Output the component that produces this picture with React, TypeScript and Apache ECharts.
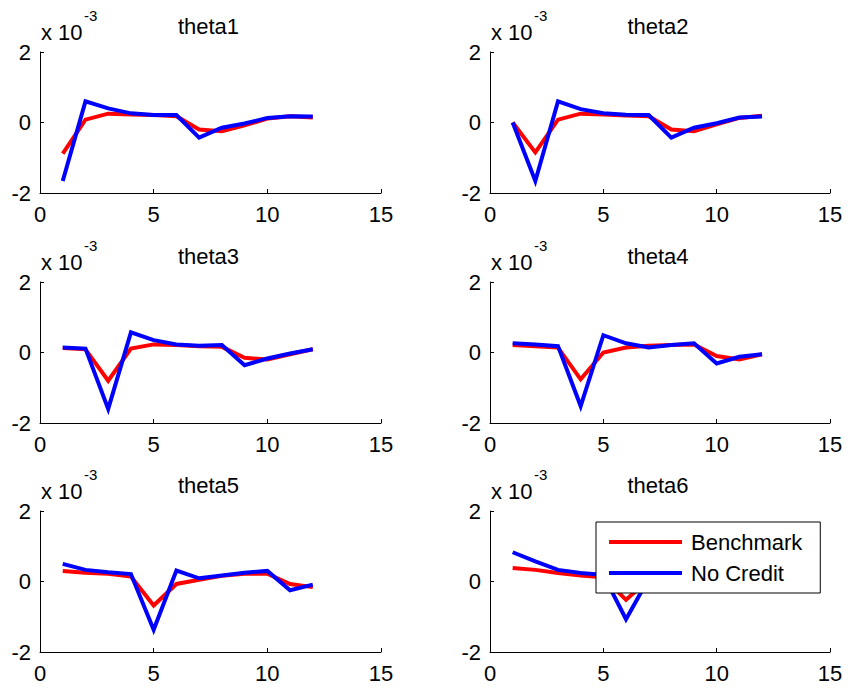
import React, { useEffect, useRef } from "react";
import * as echarts from "echarts";

// Horizon index 1..12
const steps = [1, 2, 3, 4, 5, 6, 7, 8, 9, 10, 11, 12];

// Panel titles
const panelTitles = ["theta1", "theta2", "theta3", "theta4", "theta5", "theta6"];

// Responses, in units of 1e-3
const benchmark1 = [-0.88, 0.08, 0.25, 0.23, 0.21, 0.18, -0.2, -0.25, -0.08, 0.11, 0.18, 0.14];
const noCredit1 = [-1.66, 0.6, 0.4, 0.26, 0.21, 0.21, -0.43, -0.15, -0.03, 0.13, 0.18, 0.17];

const benchmark2 = [0.0, -0.85, 0.08, 0.25, 0.23, 0.2, 0.18, -0.2, -0.25, -0.05, 0.13, 0.19];
const noCredit2 = [0.0, -1.66, 0.6, 0.38, 0.26, 0.22, 0.21, -0.43, -0.15, -0.02, 0.14, 0.17];

const benchmark3 = [0.13, 0.09, -0.8, 0.11, 0.23, 0.21, 0.18, 0.16, -0.15, -0.2, -0.05, 0.09];
const noCredit3 = [0.14, 0.11, -1.6, 0.57, 0.35, 0.23, 0.19, 0.21, -0.36, -0.17, -0.03, 0.09];

const benchmark4 = [0.21, 0.18, 0.14, -0.76, 0.0, 0.14, 0.19, 0.21, 0.23, -0.1, -0.2, -0.05];
const noCredit4 = [0.26, 0.23, 0.18, -1.52, 0.49, 0.26, 0.14, 0.21, 0.26, -0.31, -0.12, -0.05];

const benchmark5 = [0.3, 0.25, 0.22, 0.14, -0.68, -0.07, 0.05, 0.16, 0.22, 0.22, -0.07, -0.16];
const noCredit5 = [0.5, 0.33, 0.26, 0.21, -1.37, 0.31, 0.09, 0.17, 0.25, 0.3, -0.25, -0.09];

const benchmark6 = [0.38, 0.33, 0.24, 0.17, 0.12, -0.52, 0.05, 0.12, 0.18, 0.22, 0.2, -0.05];
const noCredit6 = [0.83, 0.57, 0.33, 0.24, 0.19, -1.07, 0.08, 0.1, 0.2, 0.26, 0.3, -0.2];

const benchmarkSets = [benchmark1, benchmark2, benchmark3, benchmark4, benchmark5, benchmark6];
const noCreditSets = [noCredit1, noCredit2, noCredit3, noCredit4, noCredit5, noCredit6];

// Axis ticks
const xTicks = [0, 5, 10, 15];
const yTicks = [-2, 0, 2];

const FONT = "Arial, 'Liberation Sans', Helvetica, sans-serif";
const RED = "#ff0000";
const BLUE = "#0000ff";

// Subplot boxes (pixels)
const colLefts = [40, 490];
const colWidths = [341, 340];
const rowTops = [52, 282, 511];
const plotHeight = 141;

export default function App() {
  const ref = useRef<HTMLDivElement>(null);

  useEffect(() => {
    if (!ref.current) return;
    const chart = echarts.init(ref.current, null, { renderer: "svg" });

    const grids: any[] = [];
    const xAxes: any[] = [];
    const yAxes: any[] = [];
    const series: any[] = [];
    const graphics: any[] = [];

    for (let i = 0; i < 6; i++) {
      const col = i % 2;
      const row = Math.floor(i / 2);
      const left = colLefts[col];
      const width = colWidths[col];
      const top = rowTops[row];
      grids.push({ left, top, width, height: plotHeight, containLabel: false });

      const axisCommon = {
        gridIndex: i,
        type: "value",
        axisLine: { show: true, onZero: false, lineStyle: { color: "#000", width: 1 } },
        axisTick: { show: true, inside: true, length: 4, lineStyle: { color: "#000", width: 1 } },
        splitLine: { show: false },
      };
      xAxes.push({
        ...axisCommon,
        min: xTicks[0],
        max: xTicks[xTicks.length - 1],
        interval: xTicks[1] - xTicks[0],
        axisLabel: { color: "#000", fontSize: 22, fontFamily: FONT, margin: 10 },
      });
      yAxes.push({
        ...axisCommon,
        min: yTicks[0],
        max: yTicks[yTicks.length - 1],
        interval: yTicks[1] - yTicks[0],
        axisLabel: { color: "#000", fontSize: 22, fontFamily: FONT, margin: 9 },
      });

      series.push({
        name: "Benchmark",
        type: "line",
        xAxisIndex: i,
        yAxisIndex: i,
        data: steps.map((s, k) => [s, benchmarkSets[i][k]]),
        showSymbol: false,
        symbol: "none",
        lineStyle: { color: RED, width: 4, join: "miter" },
        itemStyle: { color: RED },
        z: 2,
      });
      series.push({
        name: "No Credit",
        type: "line",
        xAxisIndex: i,
        yAxisIndex: i,
        data: steps.map((s, k) => [s, noCreditSets[i][k]]),
        showSymbol: false,
        symbol: "none",
        lineStyle: { color: BLUE, width: 4, join: "miter" },
        itemStyle: { color: BLUE },
        z: 3,
      });

      // panel title
      graphics.push({
        type: "text",
        x: left + width / 2 - 2,
        y: top - 25.6,
        style: {
          text: panelTitles[i],
          fill: "#000",
          font: `22px ${FONT}`,
          align: "center",
          verticalAlign: "middle",
        },
      });
      // exponent marker
      graphics.push({
        type: "text",
        x: left + 1,
        y: top - 19.6,
        style: {
          text: "x 10",
          fill: "#000",
          font: `22px ${FONT}`,
          align: "left",
          verticalAlign: "middle",
        },
      });
      graphics.push({
        type: "text",
        x: left + 44,
        y: top - 36.5,
        style: {
          text: "-3",
          fill: "#000",
          font: `15px ${FONT}`,
          align: "left",
          verticalAlign: "middle",
        },
      });
    }

    chart.setOption({
      animation: false,
      backgroundColor: "#fff",
      grid: grids,
      xAxis: xAxes,
      yAxis: yAxes,
      series,
      graphic: graphics,
      legend: {
        data: ["Benchmark", "No Credit"],
        orient: "vertical",
        left: 596,
        top: 522,
        padding: [8, 18, 8, 13],
        itemWidth: 73,
        itemHeight: 4,
        itemGap: 7,
        icon: "rect",
        backgroundColor: "#fff",
        borderColor: "#000",
        borderWidth: 1,
        borderRadius: 0,
        selectedMode: false,
        z: 10,
        textStyle: {
          color: "#000",
          fontSize: 22,
          fontFamily: FONT,
          lineHeight: 24,
          padding: [0, 0, 0, 4],
        },
      },
    });

    return () => {
      chart.dispose();
    };
  }, []);

  return (
    <div
      ref={ref}
      style={{ position: "absolute", left: 0, top: 0, width: 848, height: 690 }}
    />
  );
}
